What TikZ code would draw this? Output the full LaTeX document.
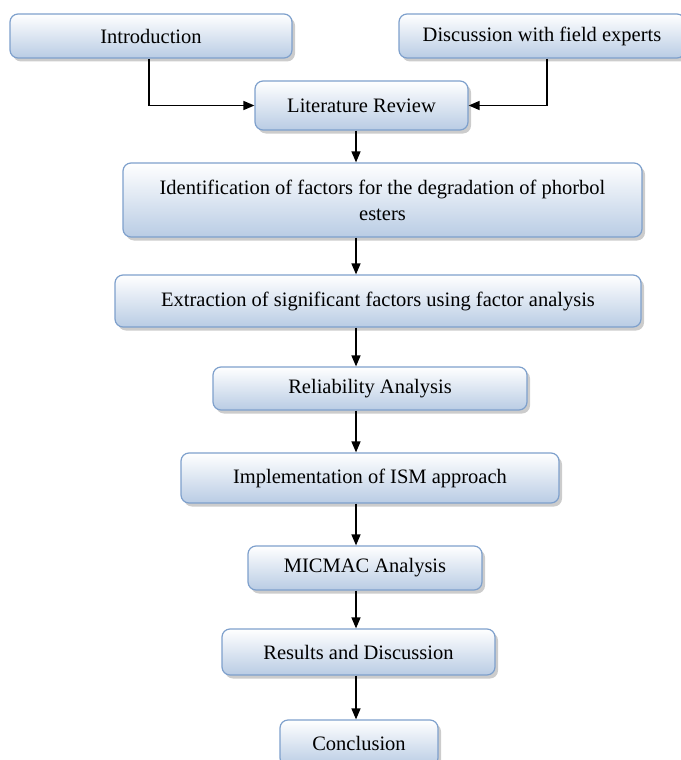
\documentclass[tikz,border=0pt]{standalone}
\usepackage{fontspec}
\setmainfont{Liberation Serif}
\usetikzlibrary{shapes, arrows.meta, positioning, shadows}
\definecolor{boxline}{RGB}{126,160,204}
\definecolor{boxbot}{RGB}{185,204,228}
\tikzstyle{stage} = [rectangle, rounded corners=8pt, draw=boxline, line width=1.2pt, top color=white, bottom color=boxbot, drop shadow={shadow xshift=3pt, shadow yshift=-3.5pt, fill=black!40}, align=center, inner sep=2pt, font=\fontsize{20.5}{26}\selectfont]
\tikzstyle{flow} = [-{Triangle[width=9pt, length=11pt]}, line width=1.4pt]

\begin{document}
\begin{tikzpicture}[x=1pt, y=-1pt]
  \useasboundingbox (0,0) rectangle (680,760);
  % top row
  \node[stage, minimum width=282pt, minimum height=44pt] (intro) at (151,36) {Introduction};
  \node[stage, minimum width=286pt, minimum height=44pt] (disc) at (542,36) {Discussion with field experts};
  \node[stage, minimum width=213pt, minimum height=49pt] (lit) at (361.5,105.5) {Literature Review};

  \draw[flow] ([xshift=-2pt]intro.south) |- (lit.west);
  \draw[flow] ([xshift=5pt]disc.south) |- (lit.east);

  % main chain
  \node[stage, minimum width=519pt, minimum height=74pt] (ident) at (382.5,200) {Identification of factors for the degradation of phorbol\\esters};
  \node[stage, minimum width=526pt, minimum height=52pt] (extr) at (378,301) {Extraction of significant factors using factor analysis};
  \node[stage, minimum width=314pt, minimum height=43pt] (rel) at (370,388.5) {Reliability Analysis};
  \node[stage, minimum width=378pt, minimum height=50pt] (ism) at (370,478) {Implementation of ISM approach};
  \node[stage, minimum width=234pt, minimum height=44pt] (micmac) at (365,568) {MICMAC Analysis};
  \node[stage, minimum width=273pt, minimum height=46pt] (res) at (358.5,652) {Results and Discussion};
  \node[stage, minimum width=158pt, minimum height=46pt] (conc) at (359,743) {Conclusion};

  \coordinate (axis) at (356,0);
  \draw[flow] (lit.south -| axis) -- (ident.north -| axis);
  \draw[flow] (ident.south -| axis) -- (extr.north -| axis);
  \draw[flow] (extr.south -| axis) -- (rel.north -| axis);
  \draw[flow] (rel.south -| axis) -- (ism.north -| axis);
  \draw[flow] (ism.south -| axis) -- (micmac.north -| axis);
  \draw[flow] (micmac.south -| axis) -- (res.north -| axis);
  \draw[flow] (res.south -| axis) -- (conc.north -| axis);
\end{tikzpicture}
\end{document}
